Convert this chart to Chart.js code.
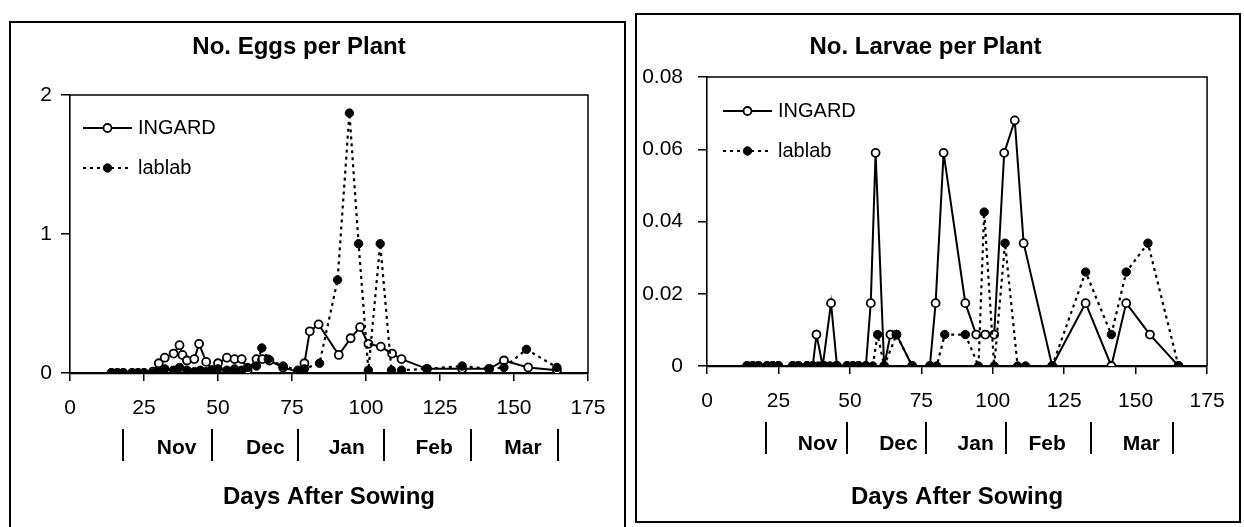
<!DOCTYPE html>
<html>
<head>
<meta charset="utf-8">
<script src="https://cdn.jsdelivr.net/npm/chart.js@4"></script>
<style>
  html, body { margin: 0; padding: 0; background: #fff; }
  body { width: 1244px; height: 527px; position: relative; overflow: hidden; }
  .panel { position: absolute; border: 2px solid #000; box-sizing: border-box; }
  #panelL { left: 9px; top: 21px; width: 617px; height: 540px; }
  #panelR { left: 635px; top: 13px; width: 606px; height: 510px; }
  canvas { position: absolute; }
  #cL { left: 10px; top: 20px; }
  #cR { left: 637px; top: 14px; }
</style>
</head>
<body>
<div class="panel" id="panelL"></div>
<div class="panel" id="panelR"></div>
<canvas id="cL" width="614" height="507"></canvas>
<canvas id="cR" width="602" height="508"></canvas>
<script>
// ---------------- DATA ----------------
const xTicks = [0, 25, 50, 75, 100, 125, 150, 175];
const eggYTicks = [0, 1, 2];
const larvaYTicks = [0, 0.02, 0.04, 0.06, 0.08];
const larvaYLabels = ['0', '0.02', '0.04', '0.06', '0.08'];

const months = ['Nov', 'Dec', 'Jan', 'Feb', 'Mar'];
const eggMonthCenters = [36, 66, 93.5, 123, 153];
const eggMonthBounds = [18, 48, 77, 106, 135.5, 165];
const larvaMonthCenters = [38.7, 67, 94, 119, 152];
const larvaMonthBounds = [20.7, 49, 76.6, 104.6, 134.3, 163];

// Eggs per plant
const eggIngardDays = [14,16,18,21,23,25,28,30,32,35,37,38,39.5,42,43.6,46,48,50,53,55.6,58,60,63,65,67.4,72,77,79.2,81,84,90.8,94.8,98,100.8,105,108.8,112,120.6,132.5,141.6,146.6,154.8,164.5];
const eggIngardVals = [0,0,0,0,0,0,0.01,0.07,0.11,0.14,0.2,0.13,0.09,0.1,0.21,0.08,0.02,0.07,0.11,0.1,0.1,0.02,0.1,0.1,0.09,0.04,0.01,0.07,0.3,0.35,0.13,0.25,0.33,0.21,0.19,0.14,0.1,0.03,0.03,0.03,0.09,0.04,0.02];
const eggLablabDays = [14,16,18,21,23,25,28,30,32,35,37,39.5,42,44,46,48,50,53,55.6,58,60,63,64.8,67,72,77,79.2,84.3,90.4,94.4,97.5,100.8,104.8,108.6,112,120.6,132.5,141.6,146.6,154.2,164.5];
const eggLablabVals = [0,0,0,0,0,0,0,0.01,0.03,0.02,0.04,0.02,0.01,0.02,0.01,0.02,0.03,0.02,0.03,0.02,0.04,0.05,0.18,0.1,0.05,0.02,0.03,0.07,0.67,1.87,0.93,0.02,0.93,0.02,0.02,0.03,0.05,0.03,0.04,0.17,0.04];

// Larvae per plant
const larvaIngardDays = [14,16,18,21,23,25,30,32,35,37,38.3,40.5,43.4,45.5,49,51,53,55.6,57.3,59,62,64.2,66.3,71.8,78,80,82.8,90.4,94.2,97.4,100.5,104,107.7,110.8,120.8,132.5,141.5,146.7,155,165];
const larvaIngardVals = [0,0,0,0,0,0,0,0,0,0,0.0087,0,0.0174,0,0,0,0,0,0.0174,0.059,0,0.0087,0.0087,0,0,0.0174,0.059,0.0174,0.0087,0.0087,0.0087,0.059,0.068,0.034,0,0.0174,0,0.0174,0.0087,0];
const larvaLablabDays = [14,16,18,21,23,25,30,32,35,37,39,41.4,43,45,49,51,53,55.6,58,59.7,62,66.3,71.8,78,80.4,83.2,90.4,95,97,100.5,104.3,108.7,111.5,120.8,132.5,141.5,146.7,154.3,165];
const larvaLablabVals = [0,0,0,0,0,0,0,0,0,0,0,0,0,0,0,0,0,0,0,0.0087,0,0.0087,0,0,0,0.0087,0.0087,0,0.0426,0,0.034,0,0,0,0.026,0.0087,0.026,0.034,0];

// ---------------- STYLE / HELPERS ----------------
const FONT = "'Liberation Sans', Arial, sans-serif";
const toXY = (d, v) => d.map((x, i) => ({ x, y: v[i] }));

const framePlugin = {
  id: 'frame',
  afterDraw(chart) {
    const { ctx, chartArea: a } = chart;
    ctx.save();
    ctx.strokeStyle = '#000';
    ctx.lineWidth = 1.5;
    ctx.beginPath();
    ctx.moveTo(a.left, a.top);
    ctx.lineTo(a.right, a.top);
    ctx.lineTo(a.right, a.bottom);
    ctx.stroke();
    ctx.restore();
  }
};

const monthPlugin = {
  id: 'months',
  afterDraw(chart, args, opts) {
    const { ctx, chartArea: a } = chart;
    const xs = chart.scales.x;
    ctx.save();
    ctx.fillStyle = '#000';
    ctx.strokeStyle = '#000';
    ctx.lineWidth = 2;
    opts.bounds.forEach(d => {
      const px = Math.round(xs.getPixelForValue(d));
      ctx.beginPath();
      ctx.moveTo(px, a.bottom + 56);
      ctx.lineTo(px, a.bottom + 88);
      ctx.stroke();
    });
    ctx.font = 'bold 21px ' + FONT;
    ctx.textAlign = 'center';
    ctx.textBaseline = 'middle';
    opts.names.forEach((n, i) => {
      ctx.fillText(n, xs.getPixelForValue(opts.centers[i]), a.bottom + opts.labelOffset);
    });
    ctx.restore();
  }
};

const legendPlugin = {
  id: 'insideLegend',
  afterDraw(chart, args, opts) {
    const { ctx, chartArea: a } = chart;
    const order = [1, 0]; // INGARD, lablab
    ctx.save();
    order.forEach((di, k) => {
      const ds = chart.data.datasets[di];
      const y = a.top + opts.y0 + k * opts.dy;
      const x0 = a.left + opts.x0, x1 = a.left + opts.x1;
      ctx.strokeStyle = ds.borderColor;
      ctx.lineWidth = ds.borderWidth;
      ctx.setLineDash(ds.borderDash || []);
      ctx.beginPath();
      ctx.moveTo(x0, y); ctx.lineTo(x1, y);
      ctx.stroke();
      ctx.setLineDash([]);
      ctx.beginPath();
      ctx.arc((x0 + x1) / 2, y, ds.pointRadius, 0, Math.PI * 2);
      ctx.fillStyle = ds.pointBackgroundColor;
      ctx.fill();
      ctx.lineWidth = ds.pointBorderWidth;
      ctx.strokeStyle = ds.pointBorderColor;
      ctx.stroke();
      ctx.fillStyle = '#000';
      ctx.font = '20px ' + FONT;
      ctx.textAlign = 'left';
      ctx.textBaseline = 'middle';
      ctx.fillText(ds.label, a.left + opts.tx, y);
    });
    ctx.restore();
  }
};

function makeChart(id, c) {
  const datasets = [
    { label: 'lablab', data: toXY(c.labDays, c.labVals), borderColor: '#000', borderWidth: 2.2,
      borderDash: [3, 4], pointRadius: 4.2, pointBackgroundColor: '#000', pointBorderColor: '#000',
      pointBorderWidth: 1, order: 1 },
    { label: 'INGARD', data: toXY(c.ingDays, c.ingVals), borderColor: '#000', borderWidth: 2,
      pointRadius: 4, pointBackgroundColor: '#fff', pointBorderColor: '#000',
      pointBorderWidth: 1.8, order: 2 }
  ];
  return new Chart(document.getElementById(id), {
    type: 'line',
    data: { datasets },
    options: {
      responsive: false, animation: false, devicePixelRatio: 1,
      layout: { padding: { left: 0, right: c.padRight, top: 0, bottom: 0 } },
      plugins: {
        legend: { display: false },
        tooltip: { enabled: false },
        title: { display: true, text: c.title, color: '#000',
          font: { family: FONT, size: 24, weight: 'bold', lineHeight: 1.2 },
          padding: { top: c.titlePadTop, bottom: c.titlePadBottom } },
        months: { names: months, centers: c.monthCenters, bounds: c.monthBounds, labelOffset: c.monthLabelOffset },
        insideLegend: c.legend
      },
      scales: {
        x: {
          type: 'linear', min: 0, max: 175,
          afterBuildTicks: s => { s.ticks = xTicks.map(v => ({ value: v })); },
          afterFit: s => { s.height = c.xAxisHeight; },
          ticks: { color: '#000', font: { family: FONT, size: 21, lineHeight: 1.2 }, padding: 14.4,
            autoSkip: false, maxRotation: 0, callback: v => String(v) },
          grid: { drawOnChartArea: false, drawTicks: true, tickLength: 8, color: '#000', lineWidth: 1.5 },
          border: { display: true, color: '#000', width: 2.2 },
          title: { display: true, text: 'Days After Sowing', color: '#000',
            font: { family: FONT, size: 24, weight: 'bold', lineHeight: 1.2 },
            padding: { top: 0, bottom: c.xTitlePadBottom } }
        },
        y: {
          type: 'linear', min: 0, max: c.yMax,
          afterBuildTicks: s => { s.ticks = c.yTicks.map(v => ({ value: v })); },
          afterFit: s => { s.width = c.yAxisWidth; },
          ticks: { color: '#000', font: { family: FONT, size: 21, lineHeight: 1.2 }, padding: c.yTickPad,
            callback: (v, i) => c.yLabels[i] },
          grid: { drawOnChartArea: false, drawTicks: true, tickLength: 9, color: '#000', lineWidth: 1.5 },
          border: { display: true, color: '#000', width: 1.6 }
        }
      }
    },
    plugins: [framePlugin, monthPlugin, legendPlugin]
  });
}

makeChart('cL', {
  title: 'No. Eggs per Plant',
  ingDays: eggIngardDays, ingVals: eggIngardVals,
  labDays: eggLablabDays, labVals: eggLablabVals,
  yMax: 2, yTicks: eggYTicks, yLabels: eggYTicks.map(String),
  monthCenters: eggMonthCenters, monthBounds: eggMonthBounds, monthLabelOffset: 75,
  padRight: 36, yAxisWidth: 60, xAxisHeight: 154, yTickPad: 9,
  titlePadTop: 12.6, titlePadBottom: 33.6, xTitlePadBottom: 15.6,
  legend: { x0: 13, x1: 62, tx: 68, y0: 33, dy: 40 }
});

makeChart('cR', {
  title: 'No. Larvae per Plant',
  ingDays: larvaIngardDays, ingVals: larvaIngardVals,
  labDays: larvaLablabDays, labVals: larvaLablabVals,
  yMax: 0.08, yTicks: larvaYTicks, yLabels: larvaYLabels,
  monthCenters: larvaMonthCenters, monthBounds: larvaMonthBounds, monthLabelOffset: 78,
  padRight: 25, yAxisWidth: 70, xAxisHeight: 156, yTickPad: 15,
  titlePadTop: 18.6, titlePadBottom: 15.6, xTitlePadBottom: 10.6,
  legend: { x0: 16, x1: 65, tx: 71, y0: 34, dy: 40 }
});
</script>
</body>
</html>
